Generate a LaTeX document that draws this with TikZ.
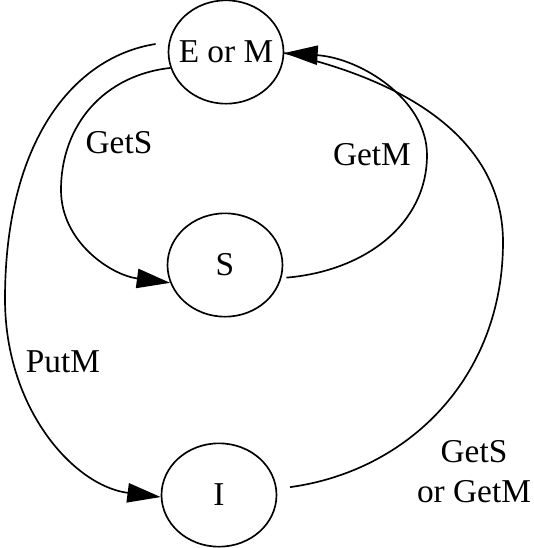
\documentclass[tikz,border=0pt]{standalone}
\usepackage{fontspec}
\setmainfont{Liberation Serif}
\usetikzlibrary{shapes.geometric, arrows.meta}

\begin{document}
\begin{tikzpicture}[
    x=0.3pt, y=-0.3pt,
    >={Triangle[length=10pt,width=5.8pt]},
    state/.style={ellipse, draw, line width=0.5pt, minimum width=34.5pt, minimum height=31pt, inner xsep=-3pt, inner ysep=0pt},
    trans/.style={line width=0.5pt},
    lbl/.style={align=center}
]
    \useasboundingbox (0,0) rectangle (534,548);

    \node (em) [state] at (226,52) {E or M};
    \node (s) [state] at (225,265) {S};
    \node (i) [state] at (219,495) {I};

    % GetS: E or M -> S
    \draw[->, trans] (em.196) .. controls (105,75) and (61,124) .. (61,190)
        .. controls (61,242) and (111,275) .. (s.198);
    % GetM: S -> E or M
    \draw[->, trans, shorten <=1.5pt] (s.347) .. controls (365,271) and (427,224) .. (427,155)
        .. controls (427,99) and (360,58) .. (em.359);
    % PutM: E or M -> I
    \draw[->, trans, shorten <=4pt] (em.170) .. controls (73,57) and (5,142) .. (5,299)
        .. controls (5,409) and (74,486) .. (i.182);
    % GetS or GetM: I -> E or M (runs into the same head)
    \draw[trans, shorten <=4pt] (i.6) .. controls (408,471) and (503,378) .. (503,242)
        .. controls (503,138) and (404,80) .. (em.359);

    \node (getsl) [lbl] at (119,143) {GetS};
    \node (getml) [lbl] at (372,155) {GetM};
    \node (putml) [lbl] at (63,362) {PutM};
    \node (anyl) [lbl] at (474,472) {GetS\\or GetM};
\end{tikzpicture}
\end{document}
